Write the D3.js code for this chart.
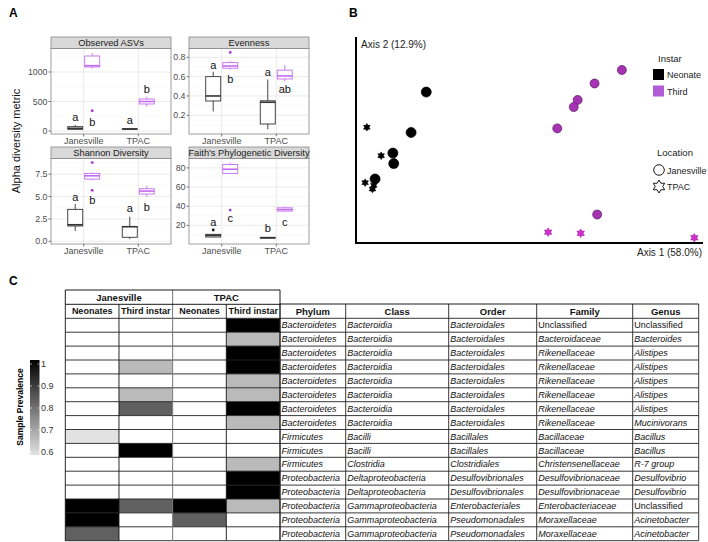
<!DOCTYPE html>
<html><head><meta charset="utf-8">
<script src="https://cdn.jsdelivr.net/npm/d3@7"></script>
<style>body{margin:0;background:#fff}svg{display:block;font-family:"Liberation Sans",Arial,sans-serif}</style>
</head><body><svg id="c" width="708" height="542"></svg>
<script>
// ---------- Panel A data ----------
const metrics = ["Observed ASVs","Evenness","Shannon Diversity","Faith's Phylogenetic Diversity"];
const locations = ["Janesville","TPAC"];
const instars = ["Neonate","Third"];
// box stats per metric: [JanNeonate, JanThird, TPACNeonate, TPACThird] each [lowWhisker,q1,median,q3,highWhisker]
const observedStats = [[20,29,45,73,100],[1060,1085,1107,1271,1322],[25,30,34,38,42],[410,458,500,542,580]];
const evennessStats = [[0.24,0.348,0.40,0.60,0.65],[0.67,0.687,0.71,0.745,0.76],[0.056,0.11,0.335,0.35,0.57],[0.55,0.576,0.607,0.667,0.72]];
const shannonStats = [[1.15,1.71,1.85,3.57,4.16],[6.8,6.95,7.32,7.59,7.7],[0.26,0.45,1.63,1.66,2.75],[4.98,5.28,5.61,5.87,6.2]];
const faithStats = [[7.5,7.8,9.5,10.6,11],[74,74.2,78.6,83.5,85.6],[6.3,6.6,7.1,7.4,7.6],[34,34.9,36.5,38.3,39.5]];
const observedOutliers = [[],[344],[],[]];
const evennessOutliers = [[],[0.85],[],[]];
const shannonOutliers = [[],[8.8,5.69],[],[]];
const faithOutliers = [[15.1],[35.9],[],[]];
const observedLetters = ["a","b","a","b"], observedLetterY = [237,153,186,712];
const evennessLetters = ["a","b","a","ab"], evennessLetterY = [0.72,0.575,0.648,0.472];
const shannonLetters = ["a","b","a","b"], shannonLetterY = [4.97,4.6,3.71,3.86];
const faithLetters = ["a","c","b","c"], faithLetterY = [23.75,27.6,17.5,23.4];
const observedTicks = [0,500,1000], evennessTicks = [0.2,0.4,0.6,0.8], shannonTicks = [0,2.5,5,7.5], faithTicks = [20,40,60,80];
const metricDomains = [[-51,1398],[0.0066,0.891],[-0.3,9.25],[0.5,89.8]];

// ---------- Panel B data ----------
const pcoaInstar = ["Neonate","Neonate","Neonate","Neonate","Neonate","Neonate","Neonate","Neonate","Neonate","Neonate","Third","Third","Third","Third","Third","Third","Third","Third","Third"];
const pcoaLocation = ["Janesville","Janesville","Janesville","Janesville","Janesville","TPAC","TPAC","TPAC","TPAC","TPAC","Janesville","Janesville","Janesville","Janesville","Janesville","Janesville","TPAC","TPAC","TPAC"];
const pcoaAxis1 = [-0.188,-0.223,-0.265,-0.263,-0.306,-0.325,-0.292,-0.329,-0.312,-0.309,0.263,0.200,0.161,0.152,0.114,0.206,0.093,0.168,0.430];
const pcoaAxis2 = [0.153,0.045,-0.010,-0.038,-0.079,0.059,-0.017,-0.089,-0.106,-0.096,0.212,0.176,0.132,0.113,0.056,-0.174,-0.221,-0.224,-0.236];

// ---------- Panel C data ----------
const heatGroups = ["Janesville","TPAC"];
const heatColumns = ["Neonates","Third instar","Neonates","Third instar"];
const taxColumns = ["Phylum","Class","Order","Family","Genus"];
const phylum = ["Bacteroidetes","Bacteroidetes","Bacteroidetes","Bacteroidetes","Bacteroidetes","Bacteroidetes","Bacteroidetes","Bacteroidetes","Firmicutes","Firmicutes","Firmicutes","Proteobacteria","Proteobacteria","Proteobacteria","Proteobacteria","Proteobacteria"];
const taxClass = ["Bacteroidia","Bacteroidia","Bacteroidia","Bacteroidia","Bacteroidia","Bacteroidia","Bacteroidia","Bacteroidia","Bacilli","Bacilli","Clostridia","Deltaproteobacteria","Deltaproteobacteria","Gammaproteobacteria","Gammaproteobacteria","Gammaproteobacteria"];
const order = ["Bacteroidales","Bacteroidales","Bacteroidales","Bacteroidales","Bacteroidales","Bacteroidales","Bacteroidales","Bacteroidales","Bacillales","Bacillales","Clostridiales","Desulfovibrionales","Desulfovibrionales","Enterobacteriales","Pseudomonadales","Pseudomonadales"];
const family = ["Unclassified","Bacteroidaceae","Rikenellaceae","Rikenellaceae","Rikenellaceae","Rikenellaceae","Rikenellaceae","Rikenellaceae","Bacillaceae","Bacillaceae","Christensenellaceae","Desulfovibrionaceae","Desulfovibrionaceae","Enterobacteriaceae","Moraxellaceae","Moraxellaceae"];
const genus = ["Unclassified","Bacteroides","Alistipes","Alistipes","Alistipes","Alistipes","Alistipes","Mucinivorans","Bacillus","Bacillus","R-7 group","Desulfovibrio","Desulfovibrio","Unclassified","Acinetobacter","Acinetobacter"];
const prevalence = [
 [null,null,null,1],[null,null,null,0.67],[null,null,null,1],[null,0.67,null,1],
 [null,null,null,0.67],[null,0.67,null,0.67],[null,0.83,null,1],[null,null,null,0.67],
 [0.6,null,null,null],[null,1,null,null],[null,null,null,0.67],[null,null,null,1],
 [null,null,null,1],[1,0.83,1,0.67],[1,null,0.83,null],[0.83,null,null,null]];
const legendTicks = [1,0.9,0.8,0.7,0.6];

// =================== drawing ===================
const svg = d3.select("#c");
function label(t,x,y){svg.append("text").attr("x",x).attr("y",y).attr("font-size",12).attr("font-weight","bold").text(t);}
label("A",9,17); label("B",349,17); label("C",9,285);

// ---- Panel A ----
const stats=[observedStats,evennessStats,shannonStats,faithStats];
const outs=[observedOutliers,evennessOutliers,shannonOutliers,faithOutliers];
const letters=[observedLetters,evennessLetters,shannonLetters,faithLetters];
const letterY=[observedLetterY,evennessLetterY,shannonLetterY,faithLetterY];
const ticks=[observedTicks,evennessTicks,shannonTicks,faithTicks];
const fmts=[d3.format("d"),d3.format(".1f"),d3.format(".1f"),d3.format("d")];
const colX=[51,189], pw=120, stripTop=[37,147], stripH=11.5, pBottom=[134,244];
const boxCol={Neonate:"#333333",Third:"#c46cf0"};
const outCol={Neonate:"#111111",Third:"#a535d6"};
metrics.forEach((m,i)=>{
  const c=i%2, r=Math.floor(i/2);
  const x0=colX[c], top=stripTop[r]+stripH, bot=pBottom[r];
  const g=svg.append("g");
  const y=d3.scaleLinear().domain(metricDomains[i]).range([bot,top]);
  const x=d3.scalePoint().domain(locations).range([x0,x0+pw]).padding(0.6);
  const tk=ticks[i], step=tk[1]-tk[0];
  const minors=[];
  for(let v=tk[0]-step/2; v<=metricDomains[i][1]; v+=step) if(v>=metricDomains[i][0]) minors.push(v);
  g.selectAll(".mn").data(minors).enter().append("line").attr("x1",x0).attr("x2",x0+pw)
    .attr("y1",d=>y(d)).attr("y2",d=>y(d)).attr("stroke","#f2f2f2").attr("stroke-width",0.5);
  g.selectAll(".mj").data(tk).enter().append("line").attr("x1",x0).attr("x2",x0+pw)
    .attr("y1",d=>y(d)).attr("y2",d=>y(d)).attr("stroke","#e6e6e6").attr("stroke-width",0.8);
  g.selectAll(".vg").data(locations).enter().append("line").attr("x1",d=>x(d)).attr("x2",d=>x(d))
    .attr("y1",top).attr("y2",bot).attr("stroke","#e6e6e6").attr("stroke-width",0.8);
  const groups=[];
  locations.forEach((l,li)=>instars.forEach((s,si)=>groups.push({l,s,k:li*2+si})));
  groups.forEach(gr=>{
    const cx=x(gr.l)+(gr.s==="Neonate"?-8.5:8.5), st=stats[i][gr.k], col=boxCol[gr.s], hw=7.5;
    g.append("line").attr("x1",cx).attr("x2",cx).attr("y1",y(st[0])).attr("y2",y(st[1])).attr("stroke",col).attr("stroke-width",0.9);
    g.append("line").attr("x1",cx).attr("x2",cx).attr("y1",y(st[3])).attr("y2",y(st[4])).attr("stroke",col).attr("stroke-width",0.9);
    g.append("rect").attr("x",cx-hw).attr("width",2*hw).attr("y",y(st[3])).attr("height",Math.max(0.5,y(st[1])-y(st[3])))
      .attr("fill","#fff").attr("stroke",col).attr("stroke-width",0.9);
    g.append("line").attr("x1",cx-hw).attr("x2",cx+hw).attr("y1",y(st[2])).attr("y2",y(st[2])).attr("stroke",col).attr("stroke-width",1.6);
    outs[i][gr.k].forEach(v=>g.append("circle").attr("cx",cx).attr("cy",y(v)).attr("r",1.4).attr("fill",outCol[gr.s]));
    g.append("text").attr("x",cx).attr("y",y(letterY[i][gr.k])).attr("dy","0.35em").attr("text-anchor","middle")
      .attr("font-size",11).attr("fill","#111").text(letters[i][gr.k]);
  });
  g.append("rect").attr("x",x0).attr("y",top).attr("width",pw).attr("height",bot-top).attr("fill","none").attr("stroke","#888").attr("stroke-width",0.8);
  g.append("rect").attr("x",x0).attr("y",stripTop[r]).attr("width",pw).attr("height",stripH).attr("fill","#d9d9d9").attr("stroke","#888").attr("stroke-width",0.8);
  g.append("text").attr("x",x0+pw/2).attr("y",stripTop[r]+stripH/2).attr("dy","0.35em").attr("text-anchor","middle")
    .attr("font-size",9.3).attr("fill","#1a1a1a").text(m);
  tk.forEach(v=>{
    g.append("line").attr("x1",x0-2.5).attr("x2",x0).attr("y1",y(v)).attr("y2",y(v)).attr("stroke","#444").attr("stroke-width",0.7);
    g.append("text").attr("x",x0-3.5).attr("y",y(v)).attr("dy","0.35em").attr("text-anchor","end").attr("font-size",8.8).attr("fill","#4d4d4d").text(fmts[i](v));
  });
  locations.forEach(l=>{
    g.append("line").attr("x1",x(l)).attr("x2",x(l)).attr("y1",bot).attr("y2",bot+2.5).attr("stroke","#444").attr("stroke-width",0.7);
    g.append("text").attr("x",x(l)).attr("y",bot+9.5).attr("text-anchor","middle").attr("font-size",9).attr("fill","#4d4d4d").text(l);
  });
});
svg.append("text").attr("transform","translate(20,141) rotate(-90)").attr("text-anchor","middle").attr("font-size",11).attr("fill","#111").text("Alpha diversity metric");

// ---- Panel B ----
const bx=d3.scaleLinear().domain([-0.35,0.45]).range([356,703]);
const by=d3.scaleLinear().domain([-0.25,0.3]).range([243,37]);
function hexagram(cx,cy,R){
  const pts=[];
  for(let k=0;k<12;k++){const a=-Math.PI/2+k*Math.PI/6, rr=k%2===0?R:R*0.577; pts.push([cx+rr*Math.cos(a),cy+rr*Math.sin(a)]);}
  return "M"+pts.map(p=>p.join(",")).join("L")+"Z";
}
const bg=svg.append("g");
pcoaAxis1.forEach((v,i)=>{
  const px=bx(v), py=by(pcoaAxis2[i]), neo=pcoaInstar[i]==="Neonate";
  if(pcoaLocation[i]==="Janesville"){
    bg.append("circle").attr("cx",px).attr("cy",py).attr("r",neo?5:4.5)
      .attr("fill",neo?"#000":"#a533b3").attr("stroke",neo?"#000":"#5a1a66").attr("stroke-width",0.7);
  } else {
    bg.append("path").attr("d",hexagram(px,py,neo?3.8:4.3)).attr("fill",neo?"#000":"#cc33cc").attr("stroke",neo?"#000":"#b020b0").attr("stroke-width",0.6);
  }
});
bg.append("line").attr("x1",356).attr("x2",356).attr("y1",37).attr("y2",244).attr("stroke","#000").attr("stroke-width",2);
bg.append("line").attr("x1",355).attr("x2",703).attr("y1",243).attr("y2",243).attr("stroke","#000").attr("stroke-width",2);
bg.append("text").attr("x",361).attr("y",48).attr("font-size",10).attr("fill","#222").text("Axis 2 (12.9%)");
bg.append("text").attr("x",702).attr("y",256).attr("text-anchor","end").attr("font-size",10).attr("fill","#222").text("Axis 1 (58.0%)");
bg.append("text").attr("x",658).attr("y",62).attr("font-size",9.5).attr("fill","#222").text("Instar");
const legCol={Neonate:"#000",Third:"#b15bd6"};
instars.forEach((s,i)=>{
  bg.append("rect").attr("x",653).attr("y",69+i*16.5).attr("width",11).attr("height",11).attr("fill",legCol[s]);
  bg.append("text").attr("x",667).attr("y",78+i*16.5).attr("font-size",9).attr("fill","#222").text(s);
});
bg.append("text").attr("x",657).attr("y",156).attr("font-size",9.5).attr("fill","#222").text("Location");
bg.append("circle").attr("cx",659).attr("cy",170).attr("r",5.3).attr("fill","none").attr("stroke","#000").attr("stroke-width",0.9);
bg.append("text").attr("x",667).attr("y",173.5).attr("font-size",9).attr("fill","#222").text("Janesville");
bg.append("path").attr("d",hexagram(659,186.5,6.5)).attr("fill","none").attr("stroke","#000").attr("stroke-width",0.9);
bg.append("text").attr("x",667).attr("y",190).attr("font-size",9).attr("fill","#222").text("TPAC");

// ---- Panel C ----
const tg=svg.append("g");
const heatX=d3.scaleBand().domain(d3.range(4)).range([65.3,280]);
const rowY=d3.scaleBand().domain(d3.range(16)).range([318.3,540.7]);
const taxEdges=[280,345.7,448.7,536.7,632.7,698.7];
const heatColor=d3.scaleLinear().domain([0.6,1]).range(["#e2e2e2","#000"]);
const taxData=[phylum,taxClass,order,family,genus];
prevalence.forEach((row,ri)=>row.forEach((v,ci)=>{
  tg.append("rect").attr("x",heatX(ci)).attr("y",rowY(ri)).attr("width",heatX.bandwidth()).attr("height",rowY.bandwidth())
    .attr("fill",v==null?"#fff":heatColor(v));
}));
tg.append("rect").attr("x",65.3).attr("y",290).attr("width",633.4).attr("height",28.3).attr("fill","#fff");
taxData.forEach((col,ci)=>col.forEach((t,ri)=>{
  tg.append("text").attr("x",taxEdges[ci]+1.5).attr("y",rowY(ri)+rowY.bandwidth()/2).attr("dy","0.35em")
    .attr("font-size",9).attr("font-style",t==="Unclassified"?"normal":"italic").attr("fill","#111").text(t);
}));
const L=(x1,y1,x2,y2,c,w)=>tg.append("line").attr("x1",x1).attr("y1",y1).attr("x2",x2).attr("y2",y2).attr("stroke",c||"#000").attr("stroke-width",w||0.9);
for(let r=0;r<16;r++){L(65.3,rowY(r),698.7,rowY(r),"#222",0.9);}
L(65.3,540.7,698.7,540.7,"#222",0.9);
[65.3,heatX(1),heatX(3),280].forEach(xx=>L(xx,304.3,xx,540.7,"#111",0.9));
L(heatX(2),290,heatX(2),540.7,"#777",1);
taxEdges.forEach(xx=>L(xx,304,xx,540.7,"#222",0.9));
L(65.3,290,280,290); L(65.3,290,65.3,304.3); L(280,290,280,304.3); L(65.3,304.3,280,304.3);
L(280,304,698.7,304);
heatGroups.forEach((gname,i)=>tg.append("text").attr("x",heatX(i*2+1)).attr("y",297.3).attr("dy","0.35em").attr("text-anchor","middle")
  .attr("font-size",9.5).attr("font-weight","bold").attr("fill","#111").text(gname));
heatColumns.forEach((h,i)=>tg.append("text").attr("x",heatX(i)+heatX.bandwidth()/2).attr("y",311.3).attr("dy","0.35em").attr("text-anchor","middle")
  .attr("font-size",9).attr("font-weight","bold").attr("fill","#111").text(h));
taxColumns.forEach((h,i)=>tg.append("text").attr("x",(taxEdges[i]+taxEdges[i+1])/2).attr("y",311.3).attr("dy","0.35em").attr("text-anchor","middle")
  .attr("font-size",9.5).attr("font-weight","bold").attr("fill","#111").text(h));
const defs=svg.append("defs");
const grad=defs.append("linearGradient").attr("id","prevGrad").attr("x1",0).attr("x2",0).attr("y1",0).attr("y2",1);
grad.append("stop").attr("offset","0%").attr("stop-color",heatColor(1));
grad.append("stop").attr("offset","100%").attr("stop-color",heatColor(0.6));
const ly=d3.scaleLinear().domain([0.6,1]).range([452,364]);
svg.append("rect").attr("x",30).attr("y",360).attr("width",9.5).attr("height",95).attr("fill","url(#prevGrad)");
legendTicks.forEach(v=>{
  svg.append("line").attr("x1",30).attr("x2",32).attr("y1",ly(v)).attr("y2",ly(v)).attr("stroke","#fff").attr("stroke-width",0.6);
  svg.append("line").attr("x1",37.5).attr("x2",39.5).attr("y1",ly(v)).attr("y2",ly(v)).attr("stroke","#fff").attr("stroke-width",0.6);
  svg.append("text").attr("x",41).attr("y",ly(v)).attr("dy","0.35em").attr("font-size",9).attr("fill","#333").text(v===1?"1":d3.format(".1f")(v));
});
svg.append("text").attr("transform","translate(23,407) rotate(-90)").attr("text-anchor","middle").attr("font-size",8.5).attr("font-weight","bold").text("Sample Prevalence");
</script></body></html>
